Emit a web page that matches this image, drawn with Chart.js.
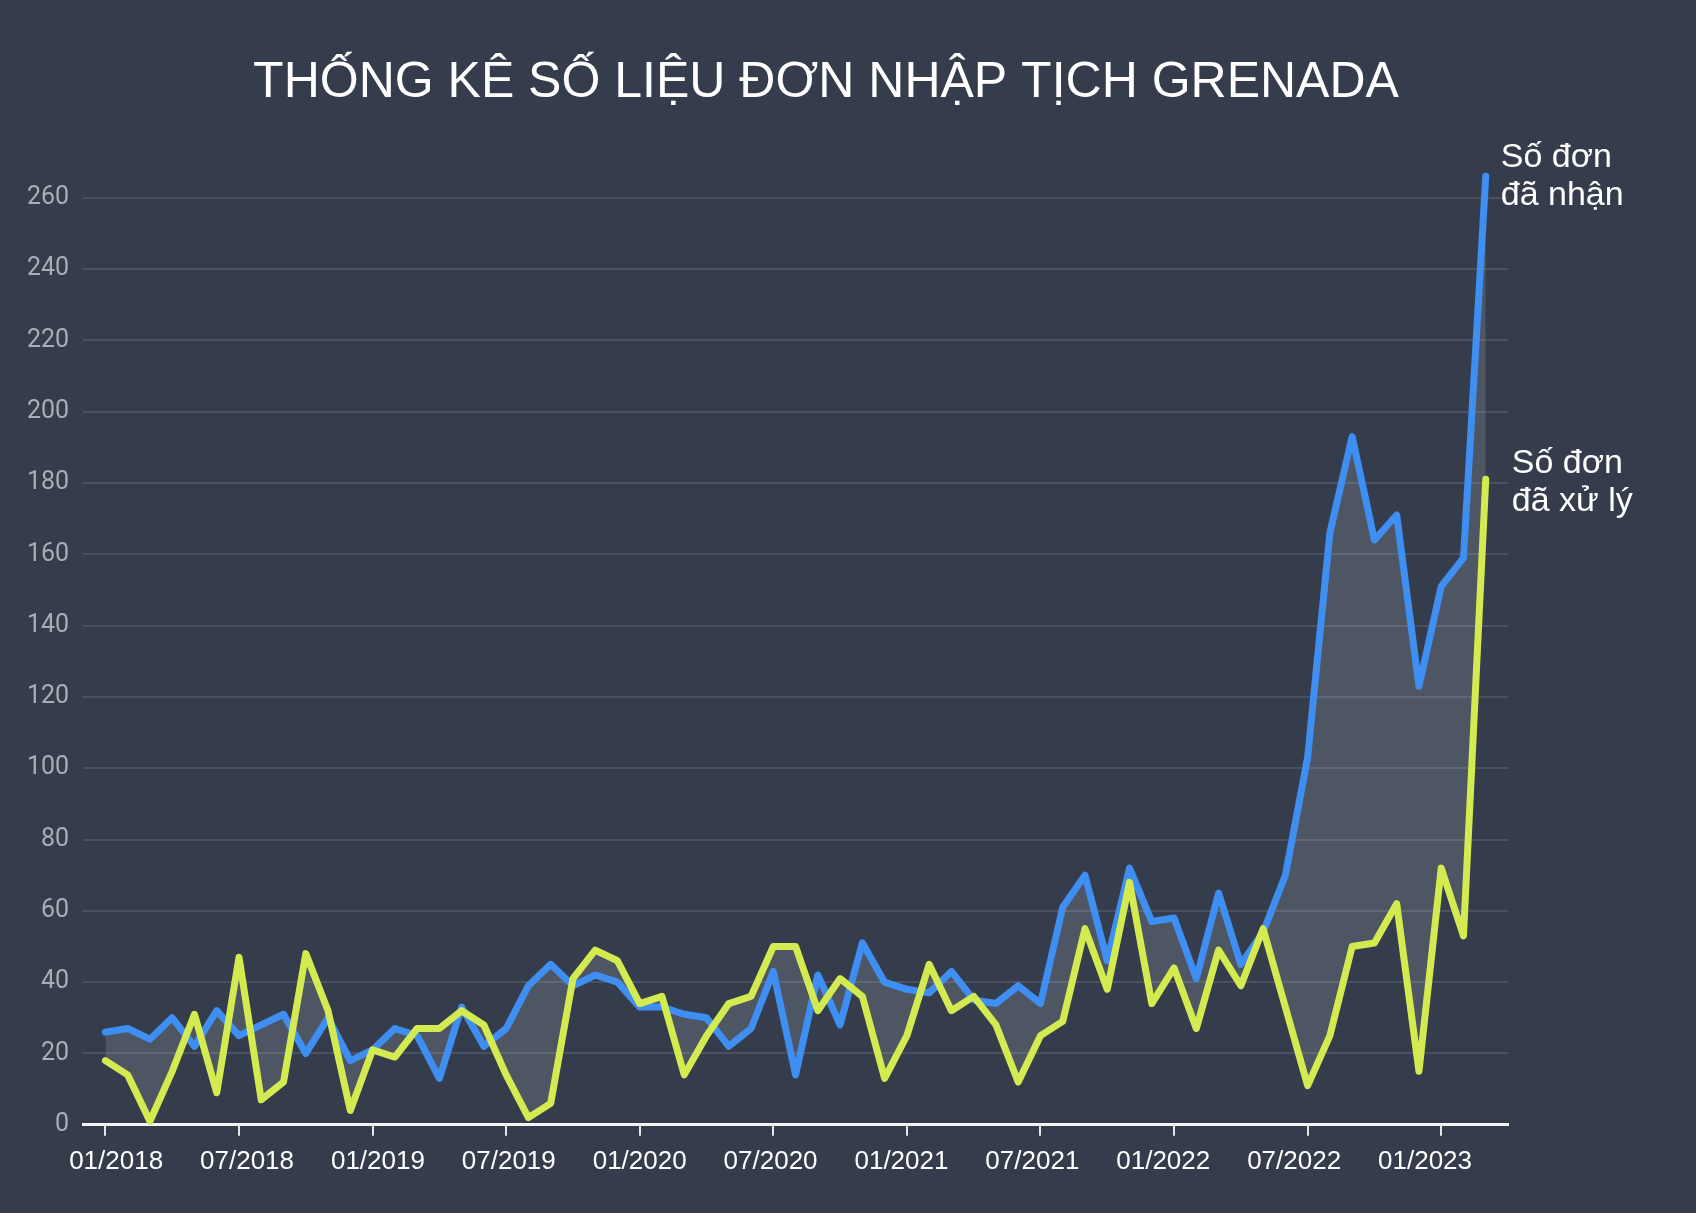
<!DOCTYPE html>
<html><head><meta charset="utf-8">
<script src="https://cdn.jsdelivr.net/npm/chart.js@4.4.1/dist/chart.umd.min.js"></script>
<style>
html,body{margin:0;padding:0;background:#353d4c;}
#wrap{width:1696px;height:1213px;position:relative;overflow:hidden;}
canvas{display:block;}
</style></head><body>
<div id="wrap"><canvas id="c" width="1696" height="1213"></canvas></div>
<script>
const chartTitle = "THỐNG KÊ SỐ LIỆU ĐƠN NHẬP TỊCH GRENADA";
const months = [
 "01/2018","02/2018","03/2018","04/2018","05/2018","06/2018","07/2018","08/2018","09/2018","10/2018","11/2018","12/2018",
 "01/2019","02/2019","03/2019","04/2019","05/2019","06/2019","07/2019","08/2019","09/2019","10/2019","11/2019","12/2019",
 "01/2020","02/2020","03/2020","04/2020","05/2020","06/2020","07/2020","08/2020","09/2020","10/2020","11/2020","12/2020",
 "01/2021","02/2021","03/2021","04/2021","05/2021","06/2021","07/2021","08/2021","09/2021","10/2021","11/2021","12/2021",
 "01/2022","02/2022","03/2022","04/2022","05/2022","06/2022","07/2022","08/2022","09/2022","10/2022","11/2022","12/2022",
 "01/2023","02/2023","03/2023"
];
const received = [
 26,27,24,30,22,32,25,28,31,20,30,18,
 21,27,25,13,33,22,27,39,45,39,42,40,
 33,33,31,30,22,27,43,14,42,28,51,40,
 38,37,43,35,34,39,34,61,70,46,72,57,
 58,41,65,45,54,70,103,166,193,164,171,123,
 151,159,266
];
const processed = [
 18,14,1,15,31,9,47,7,12,48,32,4,
 21,19,27,27,32,28,14,2,6,41,49,46,
 34,36,14,25,34,36,50,50,32,41,36,13,
 25,45,32,36,28,12,25,29,55,38,68,34,
 44,27,49,39,55,33,11,25,50,51,62,15,
 72,53,181
];
const tickMonths = ["01/2018","07/2018","01/2019","07/2019","01/2020","07/2020","01/2021","07/2021","01/2022","07/2022","01/2023"];
const yTicks = [0,20,40,60,80,100,120,140,160,180,200,220,240,260];
const seriesLabels = [["Số đơn","đã nhận"],["Số đơn","đã xử lý"]];

Chart.defaults.font.family = "'Liberation Sans', Arial, sans-serif";

const titlePlugin = {
  id: 'titleText',
  afterDraw(chart) {
    const ctx = chart.ctx;
    ctx.save();
    ctx.fillStyle = '#ffffff';
    ctx.font = "50px 'Liberation Sans', Arial, sans-serif";
    ctx.textAlign = 'center';
    ctx.textBaseline = 'alphabetic';
    ctx.fillText(chartTitle, 826, 97);
    ctx.restore();
  }
};

const endLabelPlugin = {
  id: 'endLabels',
  afterDatasetsDraw(chart) {
    const ctx = chart.ctx;
    const offs = [[15, -9], [26, -6]];
    ctx.save();
    ctx.fillStyle = '#ffffff';
    ctx.font = "34px 'Liberation Sans', Arial, sans-serif";
    ctx.textAlign = 'left';
    ctx.textBaseline = 'alphabetic';
    chart.data.datasets.forEach((ds, di) => {
      const meta = chart.getDatasetMeta(di);
      const pt = meta.data[meta.data.length - 1];
      const lines = seriesLabels[di];
      lines.forEach((t, li) => {
        ctx.fillText(t, pt.x + offs[di][0], pt.y + offs[di][1] + li * 38);
      });
    });
    ctx.restore();
  }
};

new Chart(document.getElementById('c'), {
  type: 'line',
  data: {
    datasets: [
      {
        label: 'Số đơn đã nhận',
        data: received.map((v, i) => ({x: i, y: v})),
        borderColor: '#3f8ef1',
        borderWidth: 7,
        borderJoinStyle: 'round',
        borderCapStyle: 'round',
        pointRadius: 0,
        tension: 0,
        fill: '+1',
        backgroundColor: 'rgba(255,255,255,0.13)',
        order: 1
      },
      {
        label: 'Số đơn đã xử lý',
        data: processed.map((v, i) => ({x: i, y: v})),
        borderColor: '#d3eb50',
        borderWidth: 7,
        borderJoinStyle: 'round',
        borderCapStyle: 'round',
        pointRadius: 0,
        tension: 0,
        fill: false,
        order: 0
      }
    ]
  },
  options: {
    responsive: false,
    animation: false,
    devicePixelRatio: 1,
    layout: { padding: { top: 162, right: 188, left: 13, bottom: 26 } },
    plugins: { legend: { display: false }, tooltip: { enabled: false }, title: { display: false } },
    scales: {
      x: {
        type: 'linear', position: 'bottom',
        min: -1, max: months.length,
        afterBuildTicks: ax => { ax.ticks = tickMonths.map(m => ({ value: months.indexOf(m) })); },
        grid: { drawOnChartArea: false, drawTicks: true, tickLength: 11, color: '#e6e6e6', lineWidth: 2 },
        border: { display: true, color: '#f4f4f4', width: 3 },
        ticks: { display: false }
      },
      x2: {
        type: 'linear', position: 'bottom',
        min: -0.252, max: 10.634,
        afterBuildTicks: ax => { ax.ticks = tickMonths.map((m, k) => ({ value: k })); },
        grid: { display: false, drawTicks: false },
        border: { display: false },
        ticks: {
          color: '#ffffff', font: { size: 26 }, padding: 10, maxRotation: 0, autoSkip: false,
          callback: (v, i) => tickMonths[i]
        }
      },
      y: {
        min: 0, max: 270,
        afterBuildTicks: ax => { ax.ticks = yTicks.map(v => ({ value: v })); },
        grid: { color: '#4a5261', lineWidth: 2, drawTicks: false },
        border: { display: false },
        ticks: { color: '#a9aeb6', font: { family: 'Roboto', size: 25 }, padding: 14 }
      }
    }
  },
  plugins: [titlePlugin, endLabelPlugin]
});
</script>
</body></html>
